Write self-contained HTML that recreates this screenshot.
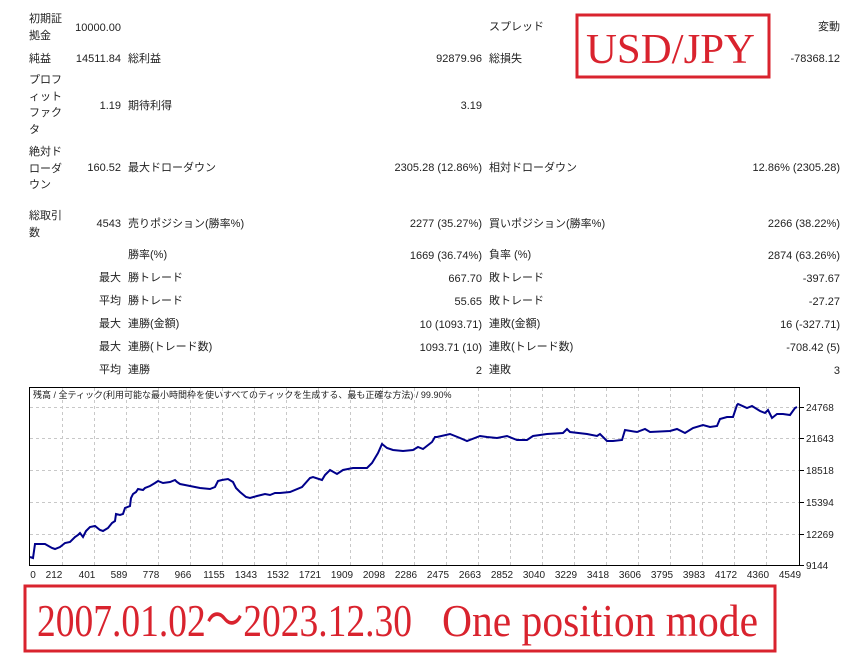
<!DOCTYPE html>
<html><head><meta charset="utf-8"><style>
body{margin:0;width:856px;height:656px;background:#fff;overflow:hidden;position:relative;font-family:"Liberation Sans","Noto Sans CJK JP",sans-serif;font-size:11px;color:#222}
.t{position:absolute;white-space:nowrap;line-height:16.5px}
.r{text-align:right}
</style></head><body>
<div class="t" style="left:29px;top:11px">初期証<br>拠金</div>
<div class="t r" style="right:735px;top:20px">10000.00</div>
<div class="t" style="left:489px;top:19px">スプレッド</div>
<div class="t r" style="right:16px;top:19px">変動</div>

<div class="t" style="left:29px;top:51px">純益</div>
<div class="t r" style="right:735px;top:51px">14511.84</div>
<div class="t" style="left:128px;top:51px">総利益</div>
<div class="t r" style="right:374px;top:51px">92879.96</div>
<div class="t" style="left:489px;top:51px">総損失</div>
<div class="t r" style="right:16px;top:51px">-78368.12</div>

<div class="t" style="left:29px;top:72px">プロフ<br>ィット<br>ファク<br>タ</div>
<div class="t r" style="right:735px;top:98px">1.19</div>
<div class="t" style="left:128px;top:98px">期待利得</div>
<div class="t r" style="right:374px;top:98px">3.19</div>

<div class="t" style="left:29px;top:144px">絶対ド<br>ローダ<br>ウン</div>
<div class="t r" style="right:735px;top:160px">160.52</div>
<div class="t" style="left:128px;top:160px">最大ドローダウン</div>
<div class="t r" style="right:374px;top:160px">2305.28 (12.86%)</div>
<div class="t" style="left:489px;top:160px">相対ドローダウン</div>
<div class="t r" style="right:16px;top:160px">12.86% (2305.28)</div>

<div class="t" style="left:29px;top:208px">総取引<br>数</div>
<div class="t r" style="right:735px;top:216px">4543</div>
<div class="t" style="left:128px;top:216px">売りポジション(勝率%)</div>
<div class="t r" style="right:374px;top:216px">2277 (35.27%)</div>
<div class="t" style="left:489px;top:216px">買いポジション(勝率%)</div>
<div class="t r" style="right:16px;top:216px">2266 (38.22%)</div>

<div class="t" style="left:128px;top:247px">勝率(%)</div>
<div class="t r" style="right:374px;top:248px">1669 (36.74%)</div>
<div class="t" style="left:489px;top:247px">負率 (%)</div>
<div class="t r" style="right:16px;top:248px">2874 (63.26%)</div>

<div class="t r" style="right:735px;top:270px">最大</div>
<div class="t" style="left:128px;top:270px">勝トレード</div>
<div class="t r" style="right:374px;top:271px">667.70</div>
<div class="t" style="left:489px;top:270px">敗トレード</div>
<div class="t r" style="right:16px;top:271px">-397.67</div>

<div class="t r" style="right:735px;top:293px">平均</div>
<div class="t" style="left:128px;top:293px">勝トレード</div>
<div class="t r" style="right:374px;top:294px">55.65</div>
<div class="t" style="left:489px;top:293px">敗トレード</div>
<div class="t r" style="right:16px;top:294px">-27.27</div>

<div class="t r" style="right:735px;top:316px">最大</div>
<div class="t" style="left:128px;top:316px">連勝(金額)</div>
<div class="t r" style="right:374px;top:317px">10 (1093.71)</div>
<div class="t" style="left:489px;top:316px">連敗(金額)</div>
<div class="t r" style="right:16px;top:317px">16 (-327.71)</div>

<div class="t r" style="right:735px;top:339px">最大</div>
<div class="t" style="left:128px;top:339px">連勝(トレード数)</div>
<div class="t r" style="right:374px;top:340px">1093.71 (10)</div>
<div class="t" style="left:489px;top:339px">連敗(トレード数)</div>
<div class="t r" style="right:16px;top:340px">-708.42 (5)</div>

<div class="t r" style="right:735px;top:362px">平均</div>
<div class="t" style="left:128px;top:362px">連勝</div>
<div class="t r" style="right:374px;top:363px">2</div>
<div class="t" style="left:489px;top:362px">連敗</div>
<div class="t r" style="right:16px;top:363px">3</div>

<svg width="856" height="656" style="position:absolute;left:0;top:0" xmlns="http://www.w3.org/2000/svg">
<rect x="577" y="15" width="192" height="62" fill="none" stroke="#d9232e" stroke-width="3"/>
<text x="586" y="63" font-family="Liberation Serif,serif" font-size="42" fill="#d9232e" textLength="169" lengthAdjust="spacingAndGlyphs">USD/JPY</text>

<rect x="29.5" y="387.5" width="770" height="178" fill="#fff" stroke="#000" stroke-width="1"/>
<g stroke="#c8c8c8" stroke-dasharray="3,3" stroke-width="1">
<path d="M62.5 388V565M94.5 388V565M126.5 388V565M158.5 388V565M190.5 388V565M222.5 388V565M254.5 388V565M286.5 388V565M318.5 388V565M350.5 388V565M382.5 388V565M414.5 388V565M446.5 388V565M478.5 388V565M510.5 388V565M542.5 388V565M574.5 388V565M606.5 388V565M638.5 388V565M670.5 388V565M702.5 388V565M734.5 388V565M766.5 388V565"/>
<path d="M30 407.5H799M30 438.5H799M30 470.5H799M30 502.5H799M30 534.5H799"/>
</g>
<g stroke="#000"><path d="M800 407.5h4M800 438.5h4M800 470.5h4M800 502.5h4M800 534.5h4M800 565.5h4"/></g>
<text x="33" y="398" font-size="9" fill="#222" font-family="Liberation Sans,Noto Sans CJK JP,sans-serif">残高 / 全ティック(利用可能な最小時間枠を使いすべてのティックを生成する、最も正確な方法) / 99.90%</text>
<polyline fill="none" stroke="#00008b" stroke-width="2" points="30,557 33,558 35,544 45,544 52,548 55,549 60,547 65,543 70,542 75,537 78,535 80,533 83,537 86,531 90,527 95,526 100,530 103,531 108,528 112,523 115,521 116,514 120,515 123,514 125,508 130,506 131,498 133,494 136,492 138,489 143,490 145,488 150,486 155,483 158,481 163,483 170,482 175,480 177,482 180,484 185,485 190,486 195,487 200,488 210,489 215,487 218,481 222,480 228,479 233,482 236,488 240,492 246,497 250,498 257,496 265,494 270,495 275,493 280,493 290,492 302,487 310,478 313,477 322,480 325,475 330,470 337,474 343,470 353,468 367,468 372,463 378,453 382,444 387,448 393,450 403,451 413,450 418,447 423,449 432,442 435,437 437,437 450,434 460,438 467,441 480,436 487,437 497,438 507,436 517,440 527,440 533,436 547,434 563,433 567,429 570,432 587,434 597,436 600,434 607,441 613,441 622,440 625,430 637,432 645,429 650,432 670,431 677,429 685,433 693,428 703,425 710,427 717,426 720,419 727,417 733,417 737,405 738,404 747,408 752,406 760,411 765,413 768,410 772,418 777,414 783,414 790,415 795,408 797,407"/>
<g font-size="10" fill="#222" font-family="Liberation Sans,sans-serif">
<text x="806" y="411">24768</text><text x="806" y="442">21643</text><text x="806" y="474">18518</text><text x="806" y="506">15394</text><text x="806" y="538">12269</text><text x="806" y="569">9144</text>
</g>
<g font-size="10" fill="#222" font-family="Liberation Sans,sans-serif" text-anchor="middle">
<text x="33" y="578">0</text><text x="54" y="578">212</text><text x="87" y="578">401</text><text x="119" y="578">589</text><text x="151" y="578">778</text><text x="183" y="578">966</text><text x="214" y="578">1155</text><text x="246" y="578">1343</text><text x="278" y="578">1532</text><text x="310" y="578">1721</text><text x="342" y="578">1909</text><text x="374" y="578">2098</text><text x="406" y="578">2286</text><text x="438" y="578">2475</text><text x="470" y="578">2663</text><text x="502" y="578">2852</text><text x="534" y="578">3040</text><text x="566" y="578">3229</text><text x="598" y="578">3418</text><text x="630" y="578">3606</text><text x="662" y="578">3795</text><text x="694" y="578">3983</text><text x="726" y="578">4172</text><text x="758" y="578">4360</text><text x="790" y="578">4549</text>
</g>

<rect x="25" y="586" width="750" height="65" fill="none" stroke="#d9232e" stroke-width="3"/>
<text x="37" y="636" font-family="Liberation Serif,serif" font-size="46" fill="#d9232e" textLength="375" lengthAdjust="spacingAndGlyphs">2007.01.02～2023.12.30</text>
<text x="442" y="636" font-family="Liberation Serif,serif" font-size="46" fill="#d9232e" textLength="316" lengthAdjust="spacingAndGlyphs">One position mode</text>
</svg>
</body></html>
